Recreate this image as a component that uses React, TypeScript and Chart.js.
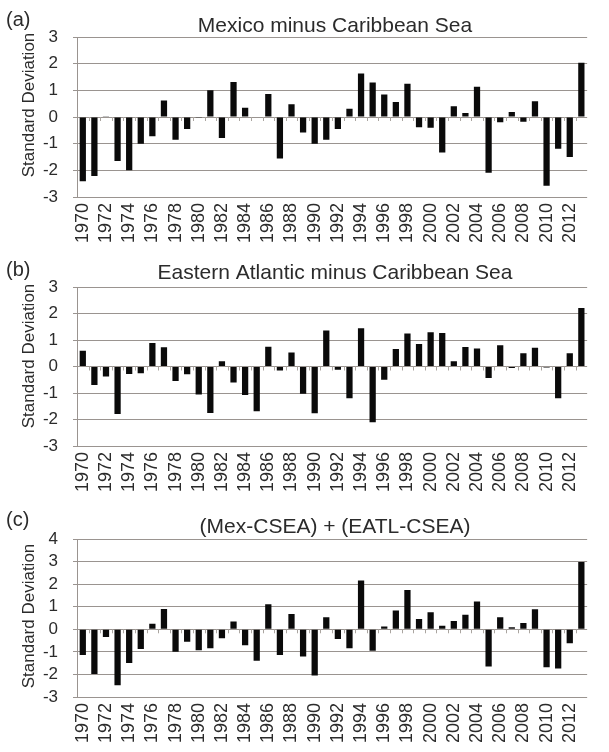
import React, { useEffect, useRef } from "react";
import { Chart, registerables } from "chart.js";

Chart.register(...registerables);

const years = [
  "1970", "1971", "1972", "1973", "1974", "1975", "1976", "1977", "1978", "1979",
  "1980", "1981", "1982", "1983", "1984", "1985", "1986", "1987", "1988", "1989",
  "1990", "1991", "1992", "1993", "1994", "1995", "1996", "1997", "1998", "1999",
  "2000", "2001", "2002", "2003", "2004", "2005", "2006", "2007", "2008", "2009",
  "2010", "2011", "2012", "2013",
];

const mexicoMinusCaribbean = [
  -2.41, -2.21, 0.03, -1.65, -2.0, -1.0, -0.72, 0.62, -0.85, -0.45,
  -0.03, 1.0, -0.79, 1.31, 0.35, 0.02, 0.86, -1.56, 0.48, -0.58,
  -1.0, -0.85, -0.45, 0.31, 1.63, 1.29, 0.84, 0.56, 1.25, -0.38,
  -0.4, -1.33, 0.4, 0.15, 1.13, -2.09, -0.2, 0.19, -0.18, 0.59,
  -2.58, -1.19, -1.5, 2.03,
];

const eatlMinusCaribbean = [
  0.59, -0.7, -0.38, -1.79, -0.28, -0.25, 0.89, 0.73, -0.55, -0.29,
  -1.06, -1.75, 0.2, -0.6, -1.08, -1.69, 0.75, -0.15, 0.53, -1.03,
  -1.76, 1.36, -0.12, -1.2, 1.44, -2.1, -0.5, 0.66, 1.25, 0.85,
  1.29, 1.26, 0.2, 0.74, 0.68, -0.43, 0.8, -0.06, 0.5, 0.71,
  -0.04, -1.2, 0.5, 2.21,
];

const combinedIndex = [
  -1.14, -1.98, -0.34, -2.48, -1.49, -0.87, 0.25, 0.9, -1.0, -0.55,
  -0.93, -0.84, -0.4, 0.35, -0.71, -1.39, 1.11, -1.14, 0.68, -1.21,
  -2.05, 0.53, -0.43, -0.84, 2.16, -0.95, 0.12, 0.83, 1.74, 0.46,
  0.75, 0.16, 0.37, 0.64, 1.23, -1.65, 0.53, 0.09, 0.28, 0.89,
  -1.68, -1.74, -0.62, 2.98,
];

const FONT = '"Liberation Sans", Arial, Helvetica, sans-serif';
const TEXT = "#2b2b2b";
const GRID = "#9a9490";

type PanelProps = {
  top: number;
  height: number;
  letter: string;
  title: string;
  values: number[];
  yMin: number;
  yMax: number;
  padTop: number;
  xHeight: number;
  titleY: number;
  yTitleY: number;
};

function Panel(p: PanelProps) {
  const ref = useRef<HTMLCanvasElement | null>(null);
  useEffect(() => {
    if (!ref.current) return;
    const decor = {
      id: "decor",
      afterDraw(chart: any) {
        const ctx = chart.ctx;
        const xs = chart.scales.x;
        const ys = chart.scales.y;
        const y0 = ys.getPixelForValue(0);
        ctx.save();
        ctx.strokeStyle = "#aaa5a0";
        ctx.lineWidth = 1;
        for (let i = 1; i < years.length; i++) {
          const x = Math.round((xs.getPixelForValue(i - 1) + xs.getPixelForValue(i)) / 2) + 0.5;
          ctx.beginPath();
          ctx.moveTo(x, y0);
          ctx.lineTo(x, y0 + 4);
          ctx.stroke();
        }
        ctx.fillStyle = TEXT;
        ctx.font = `21px ${FONT}`;
        ctx.textAlign = "center";
        ctx.textBaseline = "alphabetic";
        ctx.fillText(p.title, 335, p.titleY);
        ctx.textAlign = "left";
        ctx.font = `20px ${FONT}`;
        ctx.fillText(p.letter, 6, 26);
        ctx.translate(29, p.yTitleY);
        ctx.rotate(-Math.PI / 2);
        ctx.textAlign = "center";
        ctx.textBaseline = "middle";
        ctx.font = `17px ${FONT}`;
        ctx.fillText("Standard Deviation", 0, 0);
        ctx.restore();
      },
    };
    const chart = new Chart(ref.current, {
      type: "bar",
      data: {
        labels: years,
        datasets: [
          {
            data: p.values,
            backgroundColor: "#0a0a0a",
            borderWidth: 0,
            barPercentage: 0.54,
            categoryPercentage: 1,
          },
        ],
      },
      options: {
        responsive: false,
        animation: false,
        layout: { padding: { left: 0, right: 4, top: p.padTop, bottom: 0 } },
        plugins: {
          legend: { display: false },
          tooltip: { enabled: false },
          title: { display: false },
        },
        scales: {
          x: {
            type: "category",
            grid: { display: false, drawTicks: false },
            border: { display: false },
            ticks: {
              autoSkip: false,
              minRotation: 90,
              maxRotation: 90,
              padding: 6,
              color: TEXT,
              font: { size: 18, family: FONT },
              callback: function (this: any, value: any, index: number) {
                return index % 2 === 0 ? years[index] : "";
              },
            },
            afterFit: (s: any) => {
              s.height = p.xHeight;
            },
          },
          y: {
            min: p.yMin,
            max: p.yMax,
            ticks: {
              stepSize: 1,
              autoSkip: false,
              padding: 15,
              color: TEXT,
              font: { size: 17, family: FONT },
            },
            grid: { color: GRID, lineWidth: 1, tickLength: 4, drawTicks: true },
            border: { display: true, color: GRID, width: 1 },
            afterFit: (s: any) => {
              s.width = 77;
            },
          },
        },
      },
      plugins: [decor],
    } as any);
    return () => chart.destroy();
  }, []);
  return (
    <canvas
      ref={ref}
      width={609}
      height={p.height}
      style={{ position: "absolute", left: 0, top: p.top, width: 609, height: p.height }}
    />
  );
}

export default function App() {
  return (
    <div style={{ position: "absolute", left: 0, top: 0, width: 609, height: 752, background: "#fff" }}>
      <Panel
        top={0}
        height={250}
        letter="(a)"
        title="Mexico minus Caribbean Sea"
        values={mexicoMinusCaribbean}
        yMin={-3}
        yMax={3}
        padTop={37}
        xHeight={53}
        titleY={32}
        yTitleY={105}
      />
      <Panel
        top={250}
        height={250}
        letter="(b)"
        title="Eastern Atlantic minus Caribbean Sea"
        values={eatlMinusCaribbean}
        yMin={-3}
        yMax={3}
        padTop={37}
        xHeight={54}
        titleY={29}
        yTitleY={106}
      />
      <Panel
        top={500}
        height={252}
        letter="(c)"
        title="(Mex-CSEA) + (EATL-CSEA)"
        values={combinedIndex}
        yMin={-3}
        yMax={4}
        padTop={39}
        xHeight={55}
        titleY={33}
        yTitleY={116}
      />
    </div>
  );
}
